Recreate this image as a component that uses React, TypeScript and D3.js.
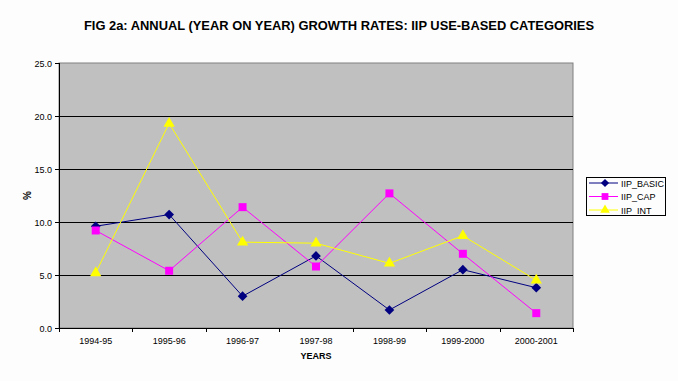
import React from "react";
import * as d3 from "d3";

const categories = ["1994-95", "1995-96", "1996-97", "1997-98", "1998-99", "1999-2000", "2000-2001"];
const basic = [9.6, 10.7, 3.0, 6.8, 1.7, 5.5, 3.8];
const cap = [9.2, 5.4, 11.4, 5.8, 12.7, 7.0, 1.4];
const intm = [5.2, 19.3, 8.1, 8.0, 6.1, 8.7, 4.5];
const yTicks = [0, 5, 10, 15, 20, 25];
const seriesNames = ["IIP_BASIC", "IIP_CAP", "IIP_INT"];

const W = 678, H = 381;
const L = 59, R = 573, T = 63, B = 328;

export default function App() {
  const x = d3.scaleBand<string>().domain(categories).range([L, R]);
  const y = d3.scaleLinear().domain([0, 25]).range([B, T]);
  const series = [
    { name: seriesNames[0], values: basic, color: "#000080", shape: "diamond" },
    { name: seriesNames[1], values: cap, color: "#ff00ff", shape: "square" },
    { name: seriesNames[2], values: intm, color: "#ffff00", shape: "triangle" },
  ];
  const line = d3.line<number>().x((_, i) => (x(categories[i]) as number) + x.bandwidth() / 2).y((v) => y(v));
  const sym = (shape: string) => {
    if (shape === "diamond") return d3.symbol().type(d3.symbolDiamond2).size(60)()!;
    if (shape === "square") return d3.symbol().type(d3.symbolSquare).size(64)()!;
    return d3.symbol().type(d3.symbolTriangle).size(55)()!;
  };
  const font = "Liberation Sans, Arial, sans-serif";
  const bounds = [...categories.map((c) => x(c) as number), R];
  return (
    <svg width={W} height={H} style={{ position: "absolute", left: 0, top: 0, background: "#fdfdfd" }} fontFamily={font}>
      <rect x={0} y={0} width={W} height={H} fill="#fdfdfd" />
      <text x={339} y={30} textAnchor="middle" fontSize={13} fontWeight="bold" textLength={510} lengthAdjust="spacingAndGlyphs">
        FIG 2a: ANNUAL (YEAR ON YEAR) GROWTH RATES: IIP USE-BASED CATEGORIES
      </text>
      <rect x={L} y={T} width={R - L} height={B - T} fill="#c0c0c0" stroke="#808080" strokeWidth={1} />
      {yTicks.filter((t) => t > 0 && t < 25).map((t) => (
        <line key={t} x1={L} x2={R} y1={Math.round(y(t)) + 0.5} y2={Math.round(y(t)) + 0.5} stroke="#000" />
      ))}
      <line x1={L + 0.5} x2={L + 0.5} y1={T} y2={B} stroke="#000" />
      <line x1={L} x2={R} y1={B + 0.5} y2={B + 0.5} stroke="#000" />
      {yTicks.map((t) => (
        <g key={t}>
          <line x1={L - 4} x2={L} y1={Math.round(y(t)) + 0.5} y2={Math.round(y(t)) + 0.5} stroke="#000" />
          <text x={L - 7} y={y(t) + 3.5} textAnchor="end" fontSize={9}>{t.toFixed(1)}</text>
        </g>
      ))}
      {bounds.map((b, i) => (
        <line key={i} x1={Math.round(b) + 0.5} x2={Math.round(b) + 0.5} y1={B} y2={B + 4} stroke="#000" />
      ))}
      {categories.map((c) => (
        <text key={c} x={(x(c) as number) + x.bandwidth() / 2} y={344} textAnchor="middle" fontSize={9}>{c}</text>
      ))}
      <text x={316} y={359} textAnchor="middle" fontSize={9} fontWeight="bold">YEARS</text>
      <text transform={`translate(31,${(T + B) / 2}) rotate(-90)`} textAnchor="middle" fontSize={10} fontWeight="bold">%</text>
      {series.map((s) => (
        <g key={s.name}>
          <path d={line(s.values)!} fill="none" stroke={s.color} strokeWidth={1} />
          {s.values.map((v, i) => (
            <path key={i} d={sym(s.shape)} transform={`translate(${(x(categories[i]) as number) + x.bandwidth() / 2},${y(v)})`} fill={s.color} />
          ))}
        </g>
      ))}
      <rect x={586.5} y={177.5} width={79} height={38} fill="#fdfdfd" stroke="#000" />
      {series.map((s, i) => {
        const ly = 183 + i * 13.5;
        return (
          <g key={s.name}>
            <line x1={589} x2={618} y1={ly} y2={ly} stroke={s.color} />
            <path d={sym(s.shape)} transform={`translate(605,${ly}) scale(0.85)`} fill={s.color} />
            <text x={621} y={ly + 3.5} fontSize={9}>{s.name}</text>
          </g>
        );
      })}
    </svg>
  );
}
